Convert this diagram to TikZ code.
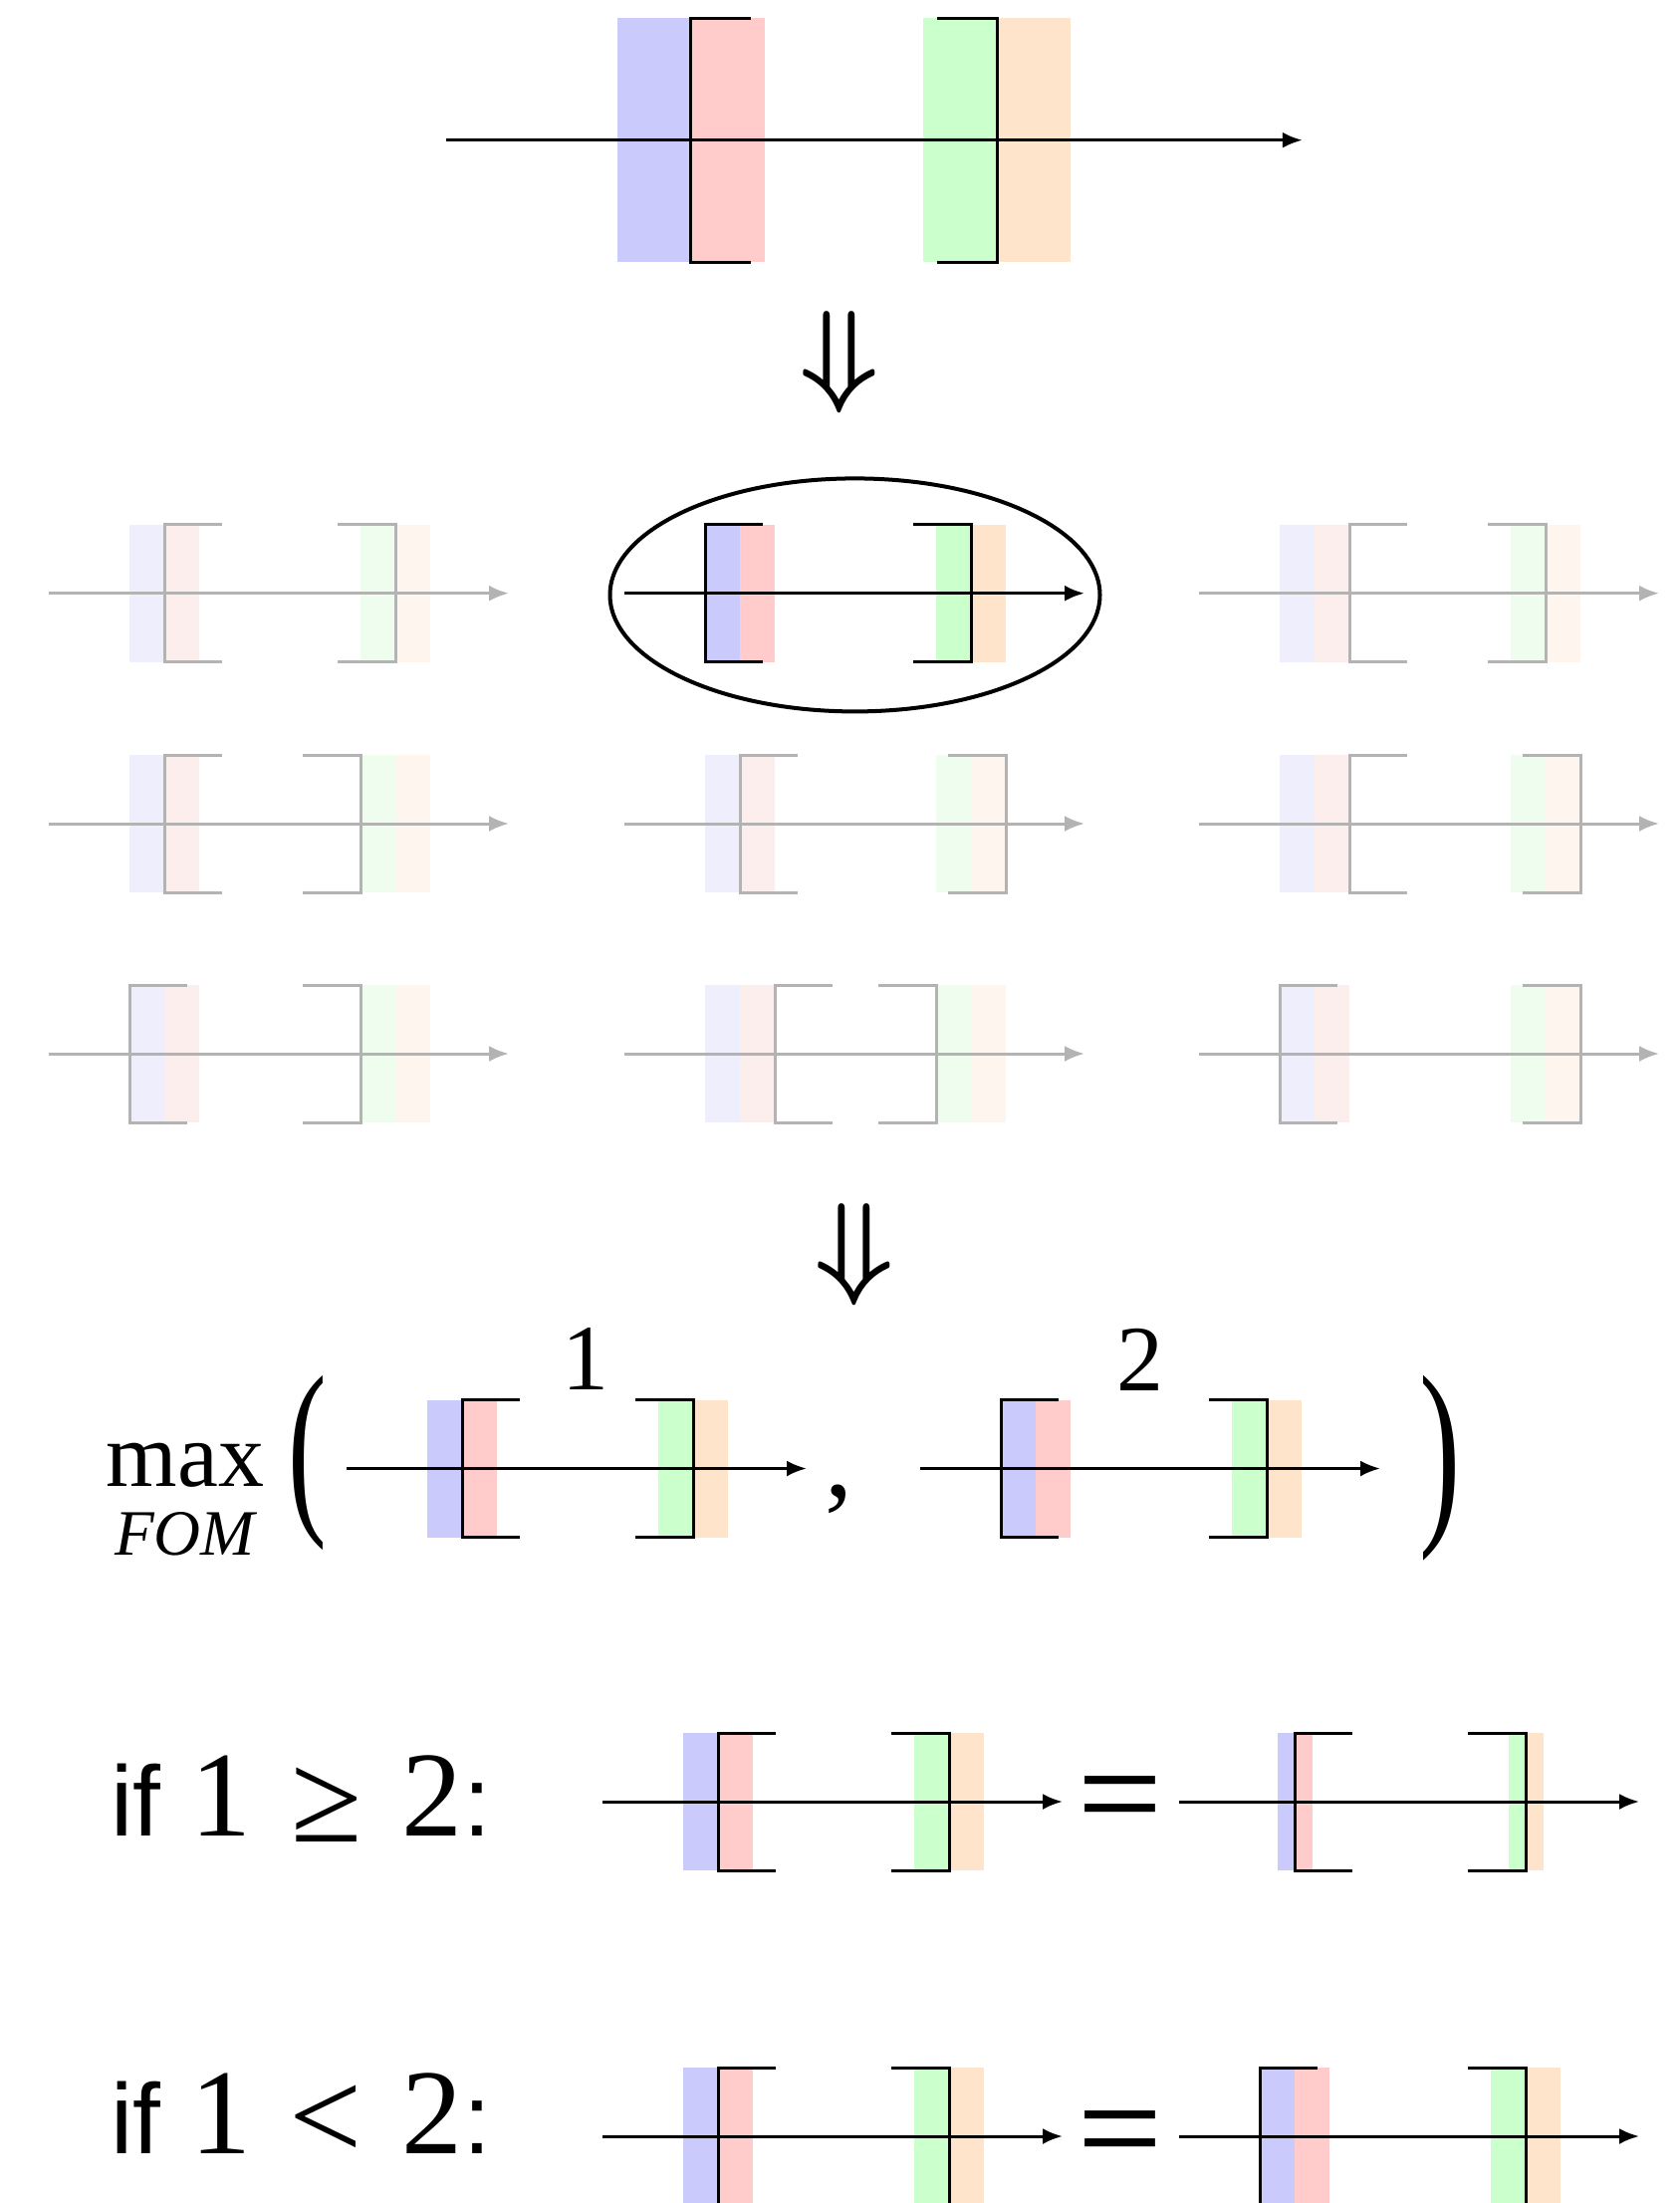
\documentclass[tikz,border=0pt]{standalone}
\usepackage{fontspec}
\setmainfont{Liberation Serif}
\newfontfamily\sansf{Liberation Sans}
\usetikzlibrary{arrows.meta}
\definecolor{fullblue}{RGB}{202,202,252}
\definecolor{fullred}{RGB}{255,203,203}
\definecolor{fullgreen}{RGB}{203,255,203}
\definecolor{fullorange}{RGB}{255,228,204}
\definecolor{fadeblue}{RGB}{238,238,253}
\definecolor{fadered}{RGB}{253,238,238}
\definecolor{fadegreen}{RGB}{238,253,238}
\definecolor{fadeorange}{RGB}{254,246,238}
\definecolor{gline}{RGB}{179,179,179}
\tikzset{
  axis/.style={line width=1.5pt,-{Latex[length=10pt,width=8pt]}},
  brk/.style={line width=1.5pt,line join=miter},
  txt/.style={inner sep=0pt,outer sep=0pt}
}
% #1 X, #2 Y, #3 left bracket offset, #4 right bracket offset, #5 palette, #6 line colour
\newcommand{\drawdiag}[6]{%
  \fill[#5blue]   ({#1+81},{#2-69})  rectangle ({#1+116},{#2+69});
  \fill[#5red]    ({#1+116},{#2-69}) rectangle ({#1+151},{#2+69});
  \fill[#5green]  ({#1+313},{#2-69}) rectangle ({#1+348},{#2+69});
  \fill[#5orange] ({#1+348},{#2-69}) rectangle ({#1+383},{#2+69});
  \draw[axis,draw=#6] (#1,#2) -- ({#1+462},#2);
  \draw[brk,draw=#6] ({#1+#3+58},{#2-69}) -- ({#1+#3},{#2-69}) -- ({#1+#3},{#2+69}) -- ({#1+#3+58},{#2+69});
  \draw[brk,draw=#6] ({#1+#4-58},{#2-69}) -- ({#1+#4},{#2-69}) -- ({#1+#4},{#2+69}) -- ({#1+#4-58},{#2+69});
}
\begin{document}
\begin{tikzpicture}[x=0.5pt,y=-0.5pt]
\path[use as bounding box] (0,0) rectangle (1687,2212);

% ---- top diagram
\fill[fullblue]   (619.5,18) rectangle (693.6,263);
\fill[fullred]    (693.6,18) rectangle (768,263);
\fill[fullgreen]  (926.6,18) rectangle (1001,263);
\fill[fullorange] (1001,18)  rectangle (1075,263);
\draw[axis] (447.8,140.7) -- (1307.8,140.7);
\draw[brk] (754,18) -- (693.6,18) -- (693.6,263) -- (754,263);
\draw[brk] (940.5,18) -- (1001,18) -- (1001,263) -- (940.5,263);

\node[txt] (dn1) at (843,364) {\scalebox{5.6}[5.75]{\boldmath$\Downarrow$}};

% ---- grid of variants
\drawdiag{49}{595.7}{116}{348}{fade}{gline}
\drawdiag{627}{595.7}{81}{348}{full}{black}
\drawdiag{1204}{595.7}{151}{348}{fade}{gline}
\drawdiag{49}{827}{116}{313}{fade}{gline}
\drawdiag{627}{827}{116}{383}{fade}{gline}
\drawdiag{1204}{827}{151}{383}{fade}{gline}
\drawdiag{49}{1058}{81}{313}{fade}{gline}
\drawdiag{627}{1058}{151}{313}{fade}{gline}
\drawdiag{1204}{1058}{81}{383}{fade}{gline}
\draw[line width=2pt] (858.5,597.4) ellipse [x radius=246, y radius=117];

\node[txt] (dn2) at (858,1259.5) {\scalebox{5.6}[5.75]{\boldmath$\Downarrow$}};

% ---- max row
\node[txt,anchor=base,font={\fontsize{46pt}{46pt}\selectfont}] (max) at (186,1492.7) {max};
\node[txt,anchor=base,font={\fontsize{32.5pt}{32.5pt}\selectfont\itshape}] (fom) at (185.5,1561.7) {FOM};
\node[txt,font={\fontsize{100pt}{100pt}\selectfont}] (lp) at (308.5,1469) {\scalebox{0.58}[0.967]{(}};
\node[txt,font={\fontsize{100pt}{100pt}\selectfont}] (rp) at (1446,1474) {\scalebox{0.62}[1.026]{)}};
\drawdiag{348}{1474.5}{116}{348}{full}{black}
\drawdiag{924}{1474.5}{81}{348}{full}{black}
\node[txt,anchor=base,font={\fontsize{56pt}{56pt}\selectfont}] (comma) at (842.5,1502) {,};
\node[txt,anchor=base,font={\fontsize{47pt}{47pt}\selectfont}] (lab1) at (587.5,1395) {1};
\node[txt,anchor=base,font={\fontsize{47pt}{47pt}\selectfont}] (lab2) at (1145,1396) {2};

% ---- if 1 >= 2
\node[txt,anchor=base,font={\sansf\fontsize{50pt}{50pt}\selectfont}] (ifA) at (136,1843.3) {if};
\node[txt,anchor=base,font={\fontsize{61pt}{61pt}\selectfont}] (oneA) at (222,1843.3) {1};
\node[txt,font={\fontsize{65pt}{65pt}\selectfont}] (geA) at (328,1812.3) {≥};
\node[txt,anchor=base,font={\fontsize{61pt}{61pt}\selectfont}] (twoA) at (434.2,1843.3) {2};
\node[txt,anchor=base,font={\sansf\fontsize{50pt}{50pt}\selectfont}] (colA) at (479.2,1843.3) {:};
\drawdiag{605}{1809}{116}{348}{full}{black}
\node[txt,font={\sansf\fontsize{56pt}{56pt}\selectfont}] (eqA) at (1125,1811) {\scalebox{1.3}[1]{=}};
% narrowed result
\fill[fullblue]   (1282.5,1740) rectangle (1300,1878);
\fill[fullred]    (1300,1740)   rectangle (1317.5,1878);
\fill[fullgreen]  (1514.5,1740) rectangle (1532,1878);
\fill[fullorange] (1532,1740)   rectangle (1549.5,1878);
\draw[axis] (1184,1809) -- (1646,1809);
\draw[brk] (1358,1740) -- (1300,1740) -- (1300,1878) -- (1358,1878);
\draw[brk] (1474,1740) -- (1532,1740) -- (1532,1878) -- (1474,1878);

% ---- if 1 < 2
\node[txt,anchor=base,font={\sansf\fontsize{50pt}{50pt}\selectfont}] (ifB) at (136,2162.7) {if};
\node[txt,anchor=base,font={\fontsize{61pt}{61pt}\selectfont}] (oneB) at (222,2162.7) {1};
\node[txt,font={\fontsize{65pt}{65pt}\selectfont}] (ltB) at (327.5,2130.8) {<};
\node[txt,anchor=base,font={\fontsize{61pt}{61pt}\selectfont}] (twoB) at (434.2,2162.7) {2};
\node[txt,anchor=base,font={\sansf\fontsize{50pt}{50pt}\selectfont}] (colB) at (479.2,2162.7) {:};
\drawdiag{605}{2145}{116}{348}{full}{black}
\node[txt,font={\sansf\fontsize{56pt}{56pt}\selectfont}] (eqB) at (1125,2147) {\scalebox{1.3}[1]{=}};
\drawdiag{1184}{2145}{81}{348}{full}{black}
\end{tikzpicture}
\end{document}
